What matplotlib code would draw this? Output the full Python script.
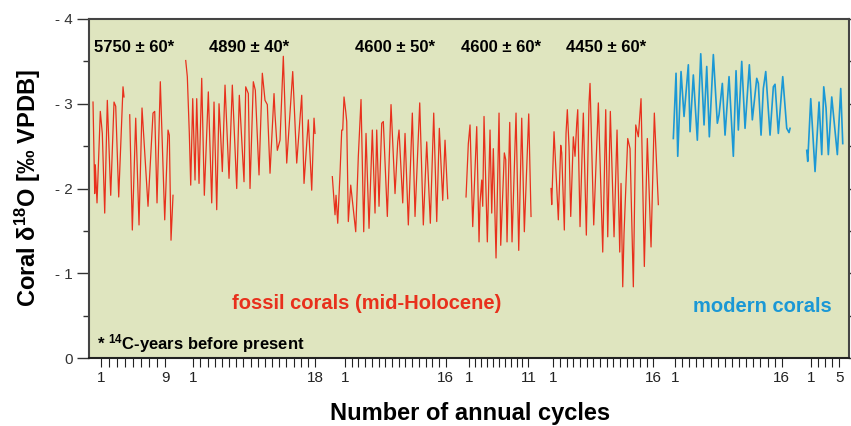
import numpy as np
import matplotlib.pyplot as plt

plt.rcParams['font.family'] = ['Liberation Sans', 'DejaVu Sans']
plt.rcParams['mathtext.fontset'] = 'custom'
plt.rcParams['mathtext.rm'] = 'Liberation Sans:bold'
plt.rcParams['mathtext.it'] = 'Liberation Sans:bold'
plt.rcParams['mathtext.bf'] = 'Liberation Sans:bold'
plt.rcParams['mathtext.default'] = 'bf'

# fossil corals (mid-Holocene): position along the composite axis and d18O
pos_5750 = [4, 5.7, 6.3, 8, 11.3, 13.3, 15.7, 18.3, 21.7, 25, 26.7, 29.7, 34, 35, 37,
            40.7, 43.3, 46.7, 50, 53, 59, 64, 65.7, 68, 71.3, 75.7, 79, 80.3, 82, 84]
d18o_5750 = [-3.02, -1.94, -2.28, -1.83, -2.91, -2.65, -1.71, -3.04, -1.92, -3.02, -2.97, -1.90,
             -3.20, -3.08, np.nan, -2.87, -1.51, -2.83, -1.57, -2.95, -1.79, -2.89, -2.91, -1.83,
             -3.26, -1.63, -2.69, -2.63, -1.39, -1.92]

pos_4890 = [96.7, 98.3, 100.3, 101.7, 103.7, 106, 107.7, 110, 112.7, 115.3, 119.3, 122.7, 125,
            127.7, 130, 131.7, 133.3, 136, 140, 143.3, 147.7, 150.3, 155, 156.7, 159.3, 161,
            164.3, 166.3, 170, 173.3, 176, 178.3, 181, 185, 186, 188.3, 191, 194.3, 197.7,
            203.7, 207.7, 212.7, 215, 219.3, 222.7, 225, 226]
d18o_4890 = [-3.51, -3.32, -2.65, -2.04, -3.06, -2.10, -3.06, -2.06, -3.30, -1.92, -3.14, -1.83,
             -3.02, -1.75, -3.00, -2.61, -2.20, -3.22, -2.12, -3.22, -2.00, -3.10, -2.08, -3.20,
             -3.12, -2.00, -3.26, -3.16, -2.16, -3.36, -3.04, -2.99, -2.18, -3.12, -2.87, -2.45,
             -2.57, -3.56, -2.30, -3.38, -2.30, -3.10, -2.06, -2.81, -1.98, -2.83, -2.65]

pos_4600a = [243.3, 246, 247, 248.7, 251, 252.7, 253.7, 255, 256.7, 257.7, 259.3, 261.7, 266.7,
             269.3, 272, 274.7, 277, 280, 283.3, 286, 287.7, 290, 292.7, 294.3, 298.3, 302, 306,
             308.7, 310, 313.7, 316, 319.3, 323.3, 326, 330.7, 334.3, 337.7, 341.3, 344.7, 347.7,
             350.3, 353.7, 356, 358.7]
d18o_4600a = [-2.14, -1.69, -1.92, -1.59, -2.18, -2.69, -2.69, -3.08, -2.91, -2.79, -1.61, -2.04,
              -1.49, -2.38, -3.05, -1.49, -2.65, -1.53, -2.69, -1.71, -2.69, -1.79, -2.77, -2.79,
              -1.67, -2.99, -1.94, -2.55, -2.69, -1.83, -2.65, -1.57, -2.89, -1.67, -3.01, -1.57,
              -2.55, -1.59, -2.89, -1.61, -2.71, -1.86, -2.57, -1.88]

pos_4600b = [377, 379.3, 381, 383.7, 387.7, 390, 391, 392.7, 393.7, 395, 398.3, 401, 402.7, 404.3,
             407, 410, 411.7, 415.3, 416.7, 418, 420.7, 423, 427, 429.7, 432.7, 435.3, 439.7, 442]
d18o_4600b = [-1.90, -2.53, -2.75, -1.55, -2.73, -1.37, -1.83, -2.10, -1.79, -2.85, -1.37, -2.69,
              -1.71, -2.47, -1.18, -2.89, -1.33, -2.42, -2.34, -1.37, -2.78, -1.37, -2.89, -1.27,
              -2.83, -1.49, -2.88, -1.67]

pos_4450 = [462, 462.7, 465, 469.3, 471.7, 472.7, 475.3, 477, 478.3, 480, 481.7, 484.3, 486,
            487.7, 488.7, 491, 493.3, 494.3, 497.3, 500, 501, 504.7, 509.3, 513.7, 516.7, 518.7,
            521.3, 525, 528, 530.7, 532, 533.7, 535, 538.7, 541, 544.3, 546.7, 549.3, 552, 555.3,
            558.3, 562, 565.3, 569.3]
d18o_4450 = [-2.00, -1.81, -2.67, -1.63, -2.51, -2.42, -1.51, -2.65, -2.93, -2.49, -1.67, -2.61,
             -2.38, -2.77, -2.93, -1.55, -2.51, -2.89, -1.45, -3.02, -3.24, -1.57, -3.01, -1.25,
             -2.93, -1.43, -2.91, -1.43, -2.69, -1.25, -2.06, -0.84, -1.47, -2.59, -2.47, -0.84,
             -2.75, -2.61, -3.06, -1.08, -2.59, -1.31, -2.89, -1.81]

# modern corals
pos_mod1 = [584.3, 587, 588.7, 592, 595, 599.3, 601, 604.3, 608.3, 611.7, 615, 617.7, 620.3,
            624.3, 628.3, 630, 633.3, 636, 640, 644.3, 647, 649.3, 652.7, 656, 660.3, 663.3,
            667.7, 669.3, 672, 674.3, 676.7, 681, 684.3, 686, 689.3, 693.7, 697.7, 700, 701]
d18o_mod1 = [-2.59, -3.36, -2.38, -3.38, -2.85, -3.46, -2.67, -3.34, -2.57, -3.59, -2.75, -3.44,
             -2.61, -3.58, -2.77, -2.87, -3.24, -2.63, -3.32, -2.38, -3.39, -2.69, -3.50, -2.71,
             -3.46, -2.81, -3.30, -3.24, -2.63, -3.18, -3.38, -2.63, -3.20, -3.23, -2.65, -3.32,
             -2.71, -2.66, -2.71]

pos_mod2 = [717.7, 718.7, 721.7, 726, 730, 732.7, 734.7, 737, 739.3, 742.7, 748.3, 751.7, 753.7]
d18o_mod2 = [-2.45, -2.32, -3.06, -2.20, -3.02, -2.40, -3.20, -2.95, -2.40, -3.08, -2.40, -3.18, -2.53]

# annual cycle ticks of each record: first tick, last tick, number of cycles
cycle_first = [11.7, 104.3, 256, 380.3, 464.3, 586, 721.7]
cycle_last = [76.3, 226, 356.7, 439.3, 564.3, 692.7, 750.3]
cycle_count = [9, 18, 16, 11, 16, 16, 5]

ages = ['5750 ± 60*', '4890 ± 40*', '4600 ± 50*', '4600 ± 60*', '4450 ± 60*']
age_pos = [5, 120, 266, 372, 477]

red = '#e8301c'
blue = '#1b98d5'

fig = plt.figure(figsize=(8.51, 4.26), dpi=100)
ax = fig.add_axes([0.1046, 0.1596, 0.8931, 0.7958])
ax.set_facecolor('#dfe5bf')

fossil = [(pos_5750, d18o_5750), (pos_4890, d18o_4890), (pos_4600a, d18o_4600a),
          (pos_4600b, d18o_4600b), (pos_4450, d18o_4450)]
for x, y in fossil:
    ax.plot(x, np.array(y, dtype=float), color=red, lw=0.9)
for x, y in [(pos_mod1, d18o_mod1), (pos_mod2, d18o_mod2)]:
    ax.plot(x, y, color=blue, lw=1.2)

ax.set_xlim(0, 760)
ax.set_ylim(0, -4)

# x ticks, one per annual cycle, labelled at first and last cycle
ticks = []
labels = []
for a, b, n in zip(cycle_first, cycle_last, cycle_count):
    t = np.linspace(a, b, n)
    ticks += list(t)
    labels += ['1'] + [''] * (n - 2) + [str(n)]
ax.set_xticks(ticks)
ax.set_xticklabels(labels, fontsize=11)
ax.tick_params(axis='x', length=6.5, width=0.8, direction='out', pad=3, colors='#222222')

ax.set_yticks([0, -1, -2, -3, -4])
ax.set_yticklabels(['0', '- 1', '- 2', '- 3', '- 4'], fontsize=11)
ax.set_yticks([-0.5, -1.5, -2.5, -3.5], minor=True)
ax.tick_params(axis='y', which='major', length=8.6, width=1, direction='out', right=True,
               pad=3, colors='#333333')
ax.tick_params(axis='y', which='minor', length=4.3, width=1, direction='out', right=True,
               colors='#333333')

for s in ['left', 'right', 'top', 'bottom']:
    ax.spines[s].set_linewidth(1.5)
    ax.spines[s].set_color('#444444')
ax.spines['bottom'].set_color('#222222')

for txt, p in zip(ages, age_pos):
    ax.text(p, -3.66, txt, fontsize=12, fontweight='bold', ha='left', va='center')

ax.text(277.5, -0.64, 'fossil corals (mid-Holocene)', color=red, fontsize=14.5,
        fontweight='bold', ha='center', va='center')
ax.text(673.5, -0.61, 'modern corals', color=blue, fontsize=14.5,
        fontweight='bold', ha='center', va='center')
ax.text(8, -0.17, r'* $^{14}$C-years before present', fontsize=12, fontweight='bold',
        ha='left', va='center')

fig.text(0.033, 0.559, r'Coral δ$^{18}$O [‰ VPDB]', rotation=90, fontsize=17,
         fontweight='bold', ha='center', va='center')
fig.text(0.552, 0.03, 'Number of annual cycles', fontsize=17, fontweight='bold',
         ha='center', va='center')

fig.savefig('out.png', dpi=100)
